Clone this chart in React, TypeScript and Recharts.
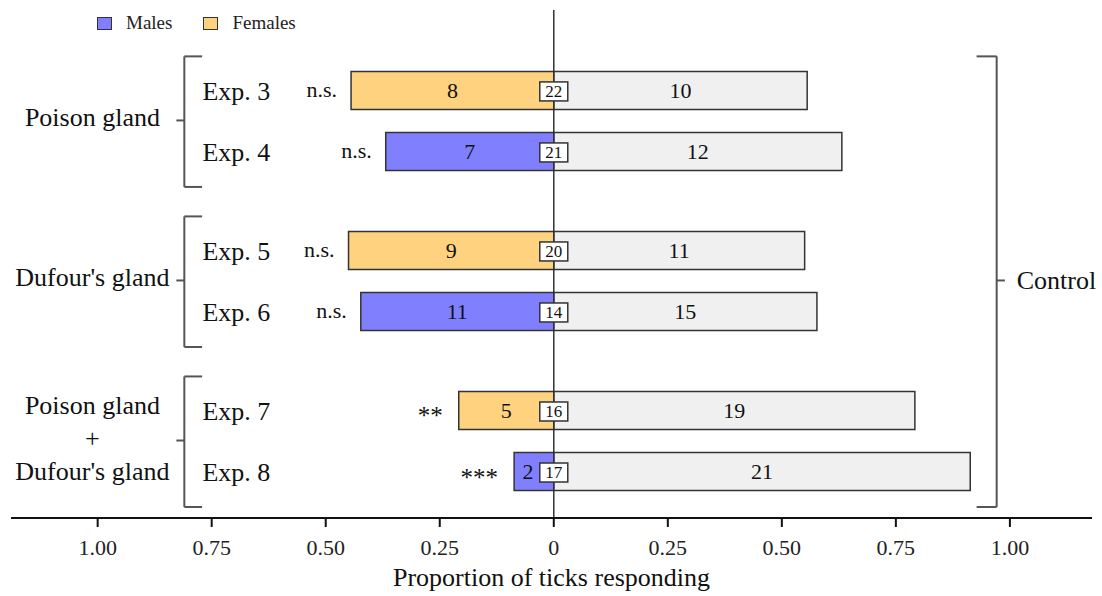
import React from "react";
import {
  BarChart,
  Bar,
  XAxis,
  YAxis,
  Cell,
  LabelList,
  Legend,
  ReferenceLine,
  ReferenceDot,
} from "recharts";

const FONT = "'Liberation Serif', 'Times New Roman', serif";

// One entry per experiment, top to bottom
const experiments = ["Exp. 3", "Exp. 4", "Exp. 5", "Exp. 6", "Exp. 7", "Exp. 8"];
const treatedCounts = [8, 7, 9, 11, 5, 2];
const controlCounts = [10, 12, 11, 15, 19, 21];
const noChoiceCounts = [22, 21, 20, 14, 16, 17];
const testedSex = ["Females", "Males", "Females", "Males", "Females", "Males"];
const significance = ["n.s.", "n.s.", "n.s.", "n.s.", "**", "***"];

// Glands tested; each group holds two experiments
const groupLabels = [["Poison gland"], ["Dufour's gland"], ["Poison gland", "+", "Dufour's gland"]];
const groupMembers = [
  [0, 1],
  [2, 3],
  [4, 5],
];

const xTicks = [-1, -0.75, -0.5, -0.25, 0, 0.25, 0.5, 0.75, 1];

const sexColors: Record<string, string> = { Males: "#8080ff", Females: "#ffd280" };
const CONTROL_FILL = "#f0f0f0";
const EDGE = "#333";
const BRACKET = "#555";

// extra spacing between groups, in row units
const GROUP_GAP = 0.623;
const rowPos = (i: number) => i + Math.floor(i / 2) * GROUP_GAP;

const data = experiments.map((name, i) => {
  const total = treatedCounts[i] + controlCounts[i];
  return {
    name,
    pos: rowPos(i),
    treated: -treatedCounts[i] / total,
    control: controlCounts[i] / total,
  };
});

const boxOf = (props: any) => {
  const vb = props.viewBox && props.viewBox.width !== undefined ? props.viewBox : props;
  const x = Number(vb.x);
  const w = Number(vb.width);
  const y = Number(vb.y);
  const h = Number(vb.height);
  return { left: Math.min(x, x + w), right: Math.max(x, x + w), cx: x + w / 2, cy: y + h / 2 };
};

const TreatedLabel = (props: any) => {
  const { index } = props;
  const b = boxOf(props);
  const stars = significance[index].startsWith("*");
  return (
    <g fontFamily={FONT} fill="#111">
      <text x={b.cx - (index === 5 ? 6 : 0)} y={b.cy + 7.5} fontSize={22} textAnchor="middle">
        {treatedCounts[index]}
      </text>
      <text
        x={b.left - (stars ? 16 : 14)}
        y={b.cy + (stars ? 14 : 7)}
        fontSize={stars ? 25 : 22}
        textAnchor="end"
      >
        {significance[index]}
      </text>
    </g>
  );
};

const ControlLabel = (props: any) => {
  const { index } = props;
  const b = boxOf(props);
  return (
    <g fontFamily={FONT} fill="#111">
      <text x={b.cx} y={b.cy + 7.5} fontSize={22} textAnchor="middle">
        {controlCounts[index]}
      </text>
      <rect x={b.left - 14} y={b.cy - 8.5} width={28} height={19} fill="#fff" stroke={EDGE} strokeWidth={1.5} />
      <text x={b.left} y={b.cy + 6.5} fontSize={17} textAnchor="middle">
        {noChoiceCounts[index]}
      </text>
    </g>
  );
};

const LegendBox = () => (
  <div
    style={{
      display: "flex",
      alignItems: "center",
      fontFamily: FONT,
      fontSize: 19,
      color: "#222",
      lineHeight: "14px",
    }}
  >
    {["Males", "Females"].map((s, k) => (
      <React.Fragment key={s}>
        <span
          style={{
            display: "inline-block",
            width: 13,
            height: 11,
            background: sexColors[s],
            border: `1.5px solid ${EDGE}`,
            marginRight: 14,
          }}
        />
        <span style={{ marginRight: k === 0 ? 31 : 0 }}>{s}</span>
      </React.Fragment>
    ))}
  </div>
);

const textAt = (lines: string[], size: number, anchor: "start" | "middle" | "end", dy: number, lineStep = 33) =>
  (p: any) => (
    <g fontFamily={FONT} fontSize={size} fill="#111" textAnchor={anchor}>
      {lines.map((t, k) => (
        <text key={k} x={p.cx} y={p.cy + dy + (k - (lines.length - 1) / 2) * lineStep}>
          {t}
        </text>
      ))}
    </g>
  );

// bracket geometry, in axis units
const L_SPINE = -0.81;
const L_ARM = -0.771;
const L_TICK = -0.8275;
const R_SPINE = 0.971;
const R_ARM = 0.927;
const R_TICK = 0.989;
const B_TOP = 0.55;
const B_BOTTOM = 0.59;

const seg = (x1: number, y1: number, x2: number, y2: number, key: string) => (
  <ReferenceLine
    key={key}
    segment={[
      { x: x1, y: y1 },
      { x: x2, y: y2 },
    ]}
    stroke={BRACKET}
    strokeWidth={2}
    ifOverflow="visible"
  />
);

export default function App() {
  const firstPos = rowPos(0);
  const lastPos = rowPos(experiments.length - 1);
  const allMid = (firstPos + lastPos) / 2;

  const brackets: React.ReactNode[] = [];
  groupMembers.forEach((rows, g) => {
    const top = rowPos(rows[0]) - B_TOP;
    const bot = rowPos(rows[rows.length - 1]) + B_BOTTOM;
    const mid = (rowPos(rows[0]) + rowPos(rows[rows.length - 1])) / 2;
    brackets.push(seg(L_SPINE, top, L_SPINE, bot, `s${g}`));
    brackets.push(seg(L_SPINE, top, L_ARM, top, `t${g}`));
    brackets.push(seg(L_SPINE, bot, L_ARM, bot, `b${g}`));
    brackets.push(seg(L_TICK, mid, L_SPINE, mid, `m${g}`));
  });
  brackets.push(seg(R_SPINE, firstPos - B_TOP, R_SPINE, lastPos + B_BOTTOM, "rs"));
  brackets.push(seg(R_ARM, firstPos - B_TOP, R_SPINE, firstPos - B_TOP, "rt"));
  brackets.push(seg(R_ARM, lastPos + B_BOTTOM, R_SPINE, lastPos + B_BOTTOM, "rb"));
  brackets.push(seg(R_SPINE, allMid, R_TICK, allMid, "rm"));

  return (
    <div style={{ position: "absolute", left: 0, top: 0 }}>
      <BarChart
        width={1102}
        height={596}
        data={data}
        layout="vertical"
        stackOffset="sign"
        margin={{ top: 10, right: 10, bottom: 8, left: 11 }}
      >
        <XAxis
          type="number"
          domain={[-1.19, 1.18]}
          ticks={xTicks}
          allowDataOverflow
          tickFormatter={(v: number) => (v === 0 ? "0" : Math.abs(v).toFixed(2))}
          height={70}
          tickSize={9}
          tickMargin={12}
          axisLine={{ stroke: "#111", strokeWidth: 2 }}
          tickLine={{ stroke: "#111", strokeWidth: 2 }}
          tick={{ fill: "#222", fontSize: 22, fontFamily: FONT }}
          label={{
            value: "Proportion of ticks responding",
            position: "insideBottom",
            offset: 2,
            fontSize: 26,
            fontFamily: FONT,
            fill: "#111",
          }}
        />
        <YAxis
          type="number"
          dataKey="pos"
          domain={[firstPos - 1.31, lastPos + 0.77]}
          allowDataOverflow
          hide
        />
        <Legend
          layout="vertical"
          align="center"
          verticalAlign="middle"
          wrapperStyle={{ top: 16, left: 97, width: "auto", height: "auto" }}
          content={() => <LegendBox />}
        />
        <ReferenceLine x={0} stroke="#333" strokeWidth={1.5} />
        <Bar dataKey="treated" stackId="a" barSize={38} stroke={EDGE} strokeWidth={1.5} isAnimationActive={false}>
          {data.map((d, i) => (
            <Cell key={d.name} fill={sexColors[testedSex[i]]} />
          ))}
          <LabelList dataKey="treated" content={TreatedLabel} />
        </Bar>
        <Bar
          dataKey="control"
          stackId="a"
          barSize={38}
          fill={CONTROL_FILL}
          stroke={EDGE}
          strokeWidth={1.5}
          isAnimationActive={false}
        >
          <LabelList dataKey="control" content={ControlLabel} />
        </Bar>
        {brackets}
        {experiments.map((name, i) => (
          <ReferenceDot
            key={name}
            x={-0.696}
            y={rowPos(i)}
            r={0}
            ifOverflow="visible"
            shape={textAt([name], 26, "middle", 10)}
          />
        ))}
        {groupLabels.map((lines, g) => {
          const rows = groupMembers[g];
          const mid = (rowPos(rows[0]) + rowPos(rows[rows.length - 1])) / 2;
          return (
            <ReferenceDot
              key={`g${g}`}
              x={-1.0115}
              y={mid}
              r={0}
              ifOverflow="visible"
              shape={textAt(lines, 26, "middle", 6)}
            />
          );
        })}
        <ReferenceDot
          x={1.015}
          y={allMid}
          r={0}
          ifOverflow="visible"
          shape={textAt(["Control"], 26, "start", 9)}
        />
      </BarChart>
    </div>
  );
}
